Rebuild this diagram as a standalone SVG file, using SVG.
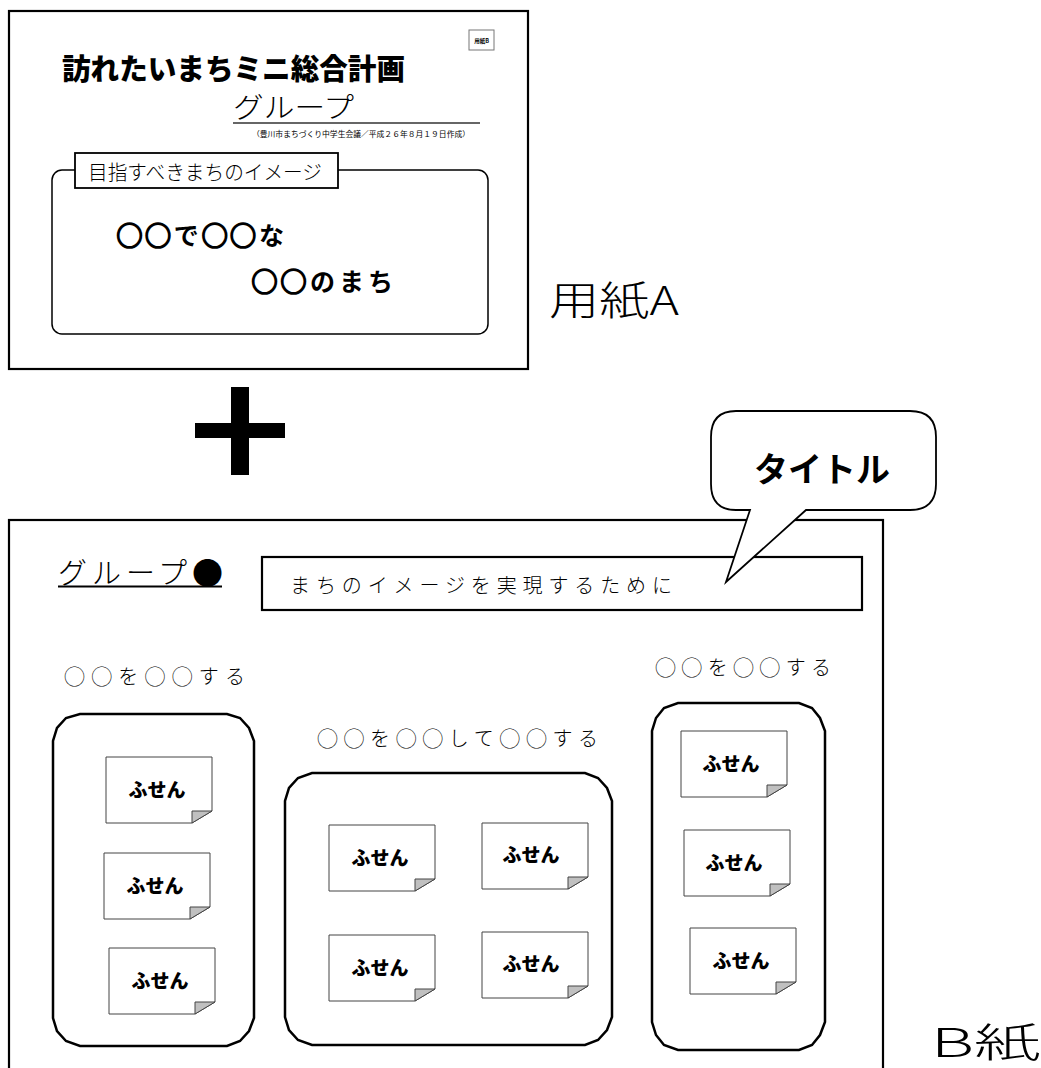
<svg xmlns="http://www.w3.org/2000/svg" xmlns:xlink="http://www.w3.org/1999/xlink" width="1041" height="1068" viewBox="0 0 1041 1068">
<style>
.frame{fill:#fff;stroke:#000;stroke-width:2.2}
.grp{fill:#fff;stroke:#000;stroke-width:2.5}
.fz{fill:#fff;stroke:#444;stroke-width:1}
.goth{font-family:"Noto Sans CJK JP","Liberation Sans",sans-serif;fill:#000}
.min{font-family:"Noto Sans CJK JP","Liberation Serif",serif;font-weight:300;fill:#000}
.fs{font-family:"Noto Sans CJK JP",sans-serif;font-weight:900;font-size:19px;text-anchor:middle}
.bc{font-size:25px;stroke:#000;stroke-width:1.8}
.sc{font-size:21px}
</style>
<defs>
<g id="fusenShape">
<path d="M0,0 H106 V54 L86,66 H0 Z" class="fz"/>
<path d="M86,54 H106 L86,66 Z" fill="#c0c0c0" stroke="#444" stroke-width="1"/>
</g>
</defs>
<rect width="1041" height="1068" fill="#fff"/>

<g id="paperA">
<rect x="9" y="11" width="519" height="358" class="frame"/>
<rect x="469" y="30" width="25" height="20" fill="#fff" stroke="#777" stroke-width="1"/>
<text x="481.5" y="43" class="goth" font-size="5.5" font-weight="bold" text-anchor="middle">用紙B</text>
<text x="62" y="80" class="goth" font-size="29" font-weight="900" textLength="343" lengthAdjust="spacingAndGlyphs">訪れたいまちミニ総合計画</text>
<text x="233" y="118" class="goth" font-size="28" font-weight="300" textLength="121" lengthAdjust="spacingAndGlyphs">グループ</text>
<line x1="233" y1="123" x2="480" y2="123" stroke="#333" stroke-width="1.5"/>
<text x="252" y="137" class="goth" font-size="7.5" textLength="218" lengthAdjust="spacingAndGlyphs">（豊川市まちづくり中学生会議／平成２６年８月１９日作成）</text>
<rect x="52" y="170" width="436" height="164" rx="10" ry="10" fill="#fff" stroke="#000" stroke-width="1.5"/>
<rect x="75" y="153" width="263" height="35" fill="#fff" stroke="#000" stroke-width="1.8"/>
<text x="88" y="180" class="goth" font-size="20" font-weight="300" textLength="234" lengthAdjust="spacingAndGlyphs">目指すべきまちのイメージ</text>
<text x="117" y="245" class="goth" font-size="25" font-weight="bold" textLength="167" lengthAdjust="spacing"><tspan class="bc">◯◯</tspan>で<tspan class="bc">◯◯</tspan>な</text>
<text x="252" y="291" class="goth" font-size="25" font-weight="bold" textLength="141" lengthAdjust="spacing"><tspan class="bc">◯◯</tspan>のまち</text>
</g>

<g id="labelA">
<text x="549" y="315" class="goth" font-size="40" font-weight="300" textLength="130" lengthAdjust="spacingAndGlyphs">用紙A</text>
</g>

<g id="plus">
<rect x="231" y="387" width="18" height="88" fill="#000"/>
<rect x="195" y="423" width="90" height="15" fill="#000"/>
</g>

<g id="paperB">
<rect x="9" y="520" width="874" height="560" class="frame"/>
<text x="58" y="584" class="min" font-size="29" textLength="165" lengthAdjust="spacing">グループ<tspan font-size="31">●</tspan></text>
<line x1="58" y1="586.5" x2="222" y2="586.5" stroke="#000" stroke-width="2.2"/>
<rect x="262" y="557" width="600" height="53" fill="#fff" stroke="#000" stroke-width="2.2"/>
<text x="290" y="593" class="min" font-size="20" textLength="382" lengthAdjust="spacing">まちのイメージを実現するために</text>
</g>

<g id="bubble">
<path d="M736,411 H910 Q936,411 936,437 V484 Q936,510 910,510 H806 L726,582 L750,510 H736 Q711,510 711,484 V437 Q711,411 736,411 Z" fill="#fff" stroke="#000" stroke-width="1.8"/>
<text x="822" y="482" class="goth" font-size="34" font-weight="bold" text-anchor="middle" textLength="136" lengthAdjust="spacingAndGlyphs">タイトル</text>
</g>

<g id="label1"><text x="64" y="684" class="min" font-size="20" textLength="181" lengthAdjust="spacing"><tspan class="sc">◯◯</tspan>を<tspan class="sc">◯◯</tspan>する</text></g>
<g id="label2"><text x="317" y="746" class="min" font-size="20" textLength="281" lengthAdjust="spacing"><tspan class="sc">◯◯</tspan>を<tspan class="sc">◯◯</tspan>して<tspan class="sc">◯◯</tspan>する</text></g>
<g id="label3"><text x="655" y="675" class="min" font-size="20" textLength="176" lengthAdjust="spacing"><tspan class="sc">◯◯</tspan>を<tspan class="sc">◯◯</tspan>する</text></g>

<g id="group1">
<path class="grp" d="M80,714 H227 L240,718 L249,728 L254,741 V1018 L249,1031 L240,1041 L227,1046 H80 L66,1041 L57,1031 L53,1018 V741 L57,728 L66,718 Z"/>
<g id="f1a"><use href="#fusenShape" x="106" y="757"/><text x="157" y="797" class="fs">ふせん</text></g>
<g id="f1b"><use href="#fusenShape" x="104" y="853"/><text x="155" y="893" class="fs">ふせん</text></g>
<g id="f1c"><use href="#fusenShape" x="109" y="948"/><text x="160" y="988" class="fs">ふせん</text></g>
</g>

<g id="group2">
<path class="grp" d="M312,773 H585 L598,778 L607,788 L612,801 V1017 L607,1030 L598,1040 L585,1045 H312 L298,1040 L289,1030 L285,1017 V801 L289,788 L298,778 Z"/>
<g id="f2a"><use href="#fusenShape" x="329" y="825"/><text x="380" y="865" class="fs">ふせん</text></g>
<g id="f2b"><use href="#fusenShape" x="482" y="823"/><text x="531" y="862" class="fs">ふせん</text></g>
<g id="f2c"><use href="#fusenShape" x="329" y="935"/><text x="380" y="975" class="fs">ふせん</text></g>
<g id="f2d"><use href="#fusenShape" x="482" y="932"/><text x="531" y="971" class="fs">ふせん</text></g>
</g>

<g id="group3">
<path class="grp" d="M678,703 H799 L812,708 L820,718 L825,731 V1022 L820,1035 L812,1045 L799,1050 H678 L664,1045 L656,1035 L652,1022 V731 L656,718 L664,708 Z"/>
<g id="f3a"><use href="#fusenShape" x="681" y="731"/><text x="731" y="771" class="fs">ふせん</text></g>
<g id="f3b"><use href="#fusenShape" x="684" y="830"/><text x="734" y="870" class="fs">ふせん</text></g>
<g id="f3c"><use href="#fusenShape" x="690" y="928"/><text x="741" y="968" class="fs">ふせん</text></g>
</g>

<g id="labelB">
<text x="931" y="1057" class="goth" font-size="40" font-weight="300" textLength="110" lengthAdjust="spacingAndGlyphs">B紙</text>
</g>

<g id="connectors"></g>
</svg>
